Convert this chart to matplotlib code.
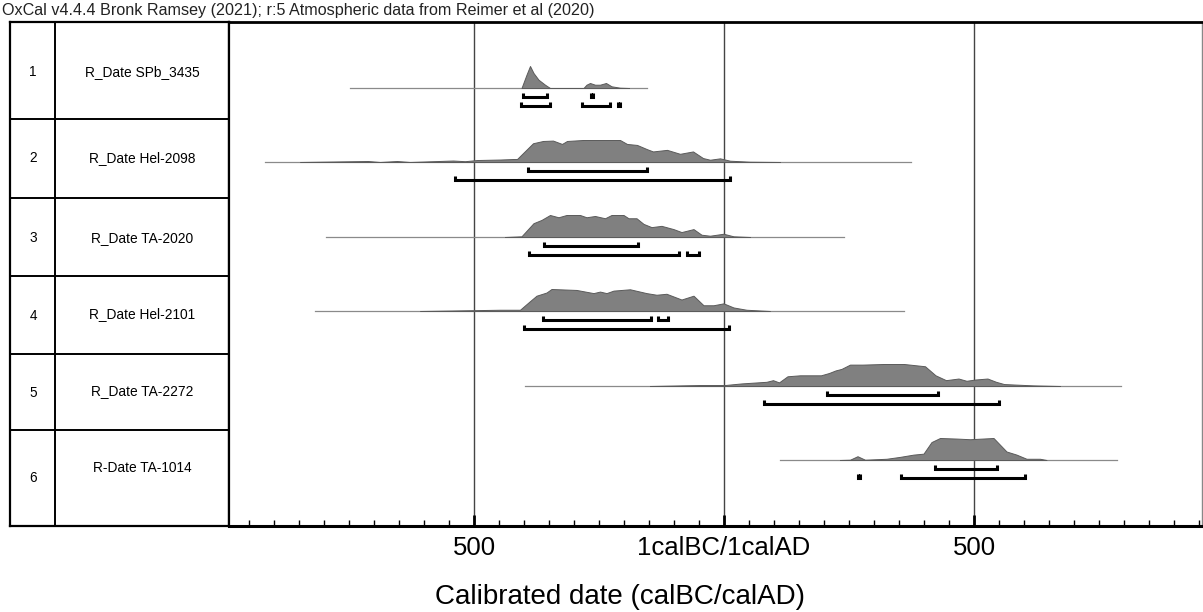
import matplotlib
matplotlib.use("Agg")
import matplotlib.pyplot as plt

plt.rcParams['font.family'] = ['Liberation Sans', 'DejaVu Sans']

# ---- data (calendar years, BC negative) ----
numbers = ["1", "2", "3", "4", "5", "6"]
labels = ["R_Date SPb_3435", "R_Date Hel-2098", "R_Date TA-2020",
          "R_Date Hel-2101", "R_Date TA-2272", "R-Date TA-1014"]

# extent of the thin baseline under each distribution
spans = [(-748, -154), (-918, 374), (-796, 240), (-818, 360), (-398, 794), (112, 785)]

# probability curves: years and relative density
yrs_1 = [-405, -395, -388, -381, -371, -358, -348, -281, -275, -268, -258, -248, -236, -225, -208, -190]
den_1 = [0, 13.3, 22, 15, 8.3, 3.3, 0, 0, 3.3, 5, 3.3, 3.3, 5, 1.7, 0.3, 0]

yrs_2 = [-848, -712, -688, -654, -628, -542, -518, -494, -448, -422, -414, -402, -382, -362, -342,
         -324, -314, -282, -248, -208, -194, -174, -154, -142, -114, -88, -62, -42, -28, -8, 12, 52, 112]
den_2 = [0, 1, 0, 1, 0, 1.5, 0.8, 2, 2.5, 3, 3, 9, 19, 21.3, 21.7,
         18.3, 21.3, 22.3, 22.3, 22.3, 18.3, 17.3, 13, 10.7, 12.3, 8.3, 10.7, 4, 2.3, 3.7, 1.3, 0.3, 0]

yrs_3 = [-438, -405, -381, -365, -348, -331, -315, -288, -275, -258, -238, -225, -201, -191, -175,
         -161, -145, -125, -101, -85, -61, -45, -28, -1, 19, 52]
den_3 = [0, 0.7, 14, 17.3, 22.3, 20, 22.3, 22.3, 20, 21.3, 19, 22.3, 22.3, 19, 19,
         13.3, 10, 11.3, 8, 5, 8, 2.3, 1.3, 3.3, 0.7, 0]

yrs_4 = [-608, -448, -408, -388, -375, -355, -345, -295, -261, -248, -235, -221, -188, -155, -135,
         -115, -85, -61, -41, -21, -1, 19, 45, 92]
den_4 = [0, 1.3, 1.3, 10.3, 16, 19.3, 23, 22, 18.7, 20.3, 18.7, 21.3, 22.7, 18.7, 17,
         18, 12, 16, 6, 6, 8, 3.7, 1.3, 0]

yrs_5 = [-148, -48, 2, 35, 85, 98, 110, 127, 152, 194, 210, 223, 235, 252, 277, 319, 360, 402,
         423, 444, 469, 485, 502, 527, 544, 560, 618, 672]
den_5 = [0, 1.25, 1.25, 3.3, 5.4, 7.5, 4.6, 12.5, 13.75, 13.75, 16.7, 20, 22, 27.5, 27.5, 28.3, 28.3, 25.4,
         13.75, 7.5, 9.6, 6.7, 8.3, 9.6, 5.4, 2.5, 0.8, 0]

yrs_6 = [232, 252, 267, 282, 325, 352, 379, 399, 415, 432, 465, 492, 539, 565, 585, 605, 632, 645]
den_6 = [0, 0.3, 4, 0.3, 1.3, 3.3, 5.7, 6.7, 19, 23.3, 22.7, 22, 23.3, 9, 5.7, 1.3, 1.3, 0]

years = [yrs_1, yrs_2, yrs_3, yrs_4, yrs_5, yrs_6]
density = [den_1, den_2, den_3, den_4, den_5, den_6]

# 68.3% and 95.4% ranges
sigma1 = [[(-402, -354), (-266, -262)], [(-393, -155)], [(-361, -173)],
          [(-363, -147), (-133, -113)], [(206, 427)], [(421, 545)]]
sigma2 = [[(-406, -348), (-284, -228), (-212, -208)], [(-538, 12)], [(-391, -90), (-75, -51)],
          [(-400, 10)], [(79, 549)], [(354, 602), (267, 271)]]

# ---- layout (pixel rows, top-down) ----
W, H = 1203, 612
top, bottom = 22, 526
baselines = [88, 162, 237, 311, 386, 460]
row_lines = [119, 198, 276, 354, 430]
label_y = [72, 158, 238, 314, 391, 468]
num_y = [72, 158, 238, 316, 393, 478]
curve_h = 22

fig = plt.figure(figsize=(W / 100, H / 100), dpi=100)

# left table
ax_t = fig.add_axes([10 / W, 1 - bottom / H, (229 - 10) / W, (bottom - top) / H])
ax_t.set_xlim(10, 229)
ax_t.set_ylim(bottom, top)
ax_t.set_xticks([])
ax_t.set_yticks([])
for s in ax_t.spines.values():
    s.set_linewidth(1.6)
    s.set_color("black")
ax_t.axvline(55, color="black", lw=1.4)
for y in row_lines:
    ax_t.axhline(y, color="black", lw=1.4)
for n, lab, ny, ly in zip(numbers, labels, num_y, label_y):
    ax_t.text(33, ny, n, ha="center", va="center", fontsize=9.8, color="black")
    ax_t.text(142, ly, lab, ha="center", va="center", fontsize=9.9, color="black")

# main plot
ax = fig.add_axes([229 / W, 1 - bottom / H, (1202 - 229) / W, (bottom - top) / H])
ax.set_xlim(-990, 956)
ax.set_ylim(bottom, top)
ax.set_yticks([])

for x in (-500, 0, 500):
    ax.axvline(x, color="#444444", lw=1.0, zorder=1)

for i in range(6):
    b = baselines[i]
    ax.plot(spans[i], [b, b], color="#8a8a8a", lw=0.9, zorder=2)
    m = max(density[i])
    h = [b - d / m * curve_h for d in density[i]]
    ax.fill_between(years[i], b, h, facecolor="#808080", edgecolor="#5a5a5a", lw=0.7, zorder=3)
    for ranges, off in ((sigma1[i], 8.5), (sigma2[i], 17.5)):
        for x0, x1 in ranges:
            yb = b + off
            ax.plot([x0, x0, x1, x1], [yb - 3.5, yb, yb, yb - 3.5], color="black",
                    lw=2.2, solid_joinstyle="miter", solid_capstyle="butt", zorder=4)

ax.spines["top"].set_linewidth(2.0)
ax.spines["bottom"].set_linewidth(2.2)
ax.spines["left"].set_linewidth(1.6)
ax.spines["right"].set_color("#888888")
ax.spines["right"].set_linewidth(1.0)

ax.set_xticks([-500, 0, 500])
ax.set_xticklabels(["500", "1calBC/1calAD", "500"], fontsize=18.5)
ax.set_xticks(range(-950, 951, 50), minor=True)
ax.tick_params(axis="x", which="major", direction="in", length=8, width=2, pad=7)
ax.tick_params(axis="x", which="minor", direction="in", length=4, width=1)

fig.text(620 / W, 1 - 597 / H, "Calibrated date (calBC/calAD)", ha="center", va="center", fontsize=20)

fig.text(2 / W, 1 - 11 / H, "OxCal v4.4.4 Bronk Ramsey (2021); r:5 Atmospheric data from Reimer et al (2020)",
         ha="left", va="center", fontsize=11.6, color="#222")

fig.savefig("out.png", dpi=100)
